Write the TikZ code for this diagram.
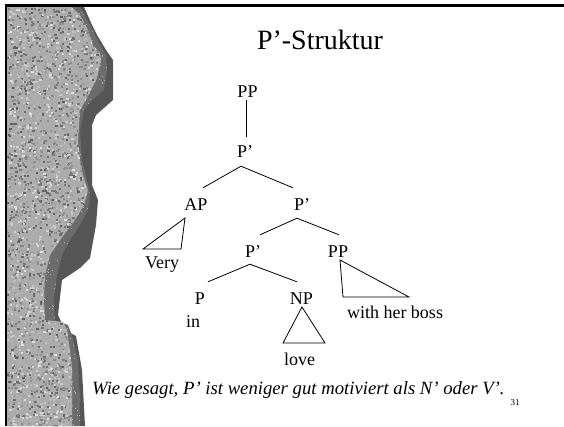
\documentclass[tikz,border=0pt]{standalone}
\usepackage{fontspec}
\setmainfont{Liberation Serif}
\definecolor{stonebase}{RGB}{172,172,172}
\definecolor{stoneband}{RGB}{108,108,108}
\definecolor{stoneshadow}{RGB}{86,86,86}
\tikzset{
  lab/.style={font=\fontsize{18}{18}\selectfont, inner sep=0pt, text height=12pt, text depth=0pt},
  word/.style={font=\fontsize{18}{18}\selectfont, inner sep=0pt, anchor=base},
  branch/.style={line width=0.8pt, black},
  tri/.style={line width=0.8pt, black, line join=miter},
}
\begin{document}
\begin{tikzpicture}[x=1pt,y=-1pt]
\useasboundingbox (0,0) rectangle (564,426);
\fill[white] (0,0) rectangle (564,426);
% decorative stone strip
\fill[stoneshadow] (7,7) -- (84,7) -- (92,25) -- (97,35) -- (106,50) -- (113,60) -- (113,100) -- (104,108) -- (96,115) -- (92,125) -- (92,185) -- (98,200) -- (96,225) -- (90,258) -- (80,268) -- (62,280) -- (58,315) -- (65,330) -- (76,336) -- (82,370) -- (85,426) -- (7,426) -- cycle;
\begin{scope}
\clip (7,7) -- (80,7) -- (90,25) -- (100,45) -- (106,55) -- (107,70) -- (104,90) -- (92,100) -- (84,110) -- (80,130) -- (82,160) -- (87,180) -- (90,195) -- (88,210) -- (80,225) -- (70,240) -- (62,255) -- (57,275) -- (54,300) -- (55,320) -- (68,325) -- (72,335) -- (78,360) -- (80,400) -- (80,426) -- (7,426) -- cycle;
\fill[stoneband] (0,0) rectangle (120,426);
\pgfmathsetseed{5}
\foreach \i in {1,...,700}{
  \pgfmathsetmacro{\px}{40+rnd*72}
  \pgfmathsetmacro{\py}{7+rnd*420}
  \fill[black!30!white] (\px,\py) rectangle ++(1,1);
}
\end{scope}
\begin{scope}
\clip (7,7) -- (72,7) -- (80,15) -- (88,30) -- (93,45) -- (100,53) -- (101,60) -- (97,78) -- (87,98) -- (80,110) -- (78,140) -- (80,160) -- (83,175) -- (88,190) -- (84,205) -- (75,220) -- (60,240) -- (50,255) -- (45,275) -- (44,300) -- (45,320) -- (63,322) -- (67,330) -- (70,350) -- (72,370) -- (72,426) -- (7,426) -- cycle;
\fill[stonebase] (0,0) rectangle (120,426);
\pgfmathsetseed{17}
\foreach \i in {1,...,3600}{
  \pgfmathsetmacro{\px}{7+rnd*96}
  \pgfmathsetmacro{\py}{7+rnd*420}
  \pgfmathsetmacro{\g}{int(12+rnd*52)}
  \fill[black!\g!white] (\px,\py) rectangle ++(2.2,2);
}
\end{scope}
% frame
\draw[line width=2.5pt, black] (5,5.5) -- (564,5.5);
\draw[line width=2.5pt, black] (6,5) -- (6,426);
% title
\node[font=\fontsize{28}{28}\selectfont, inner sep=0pt] (title) at (320,40) {P’-Struktur};
% tree labels
\node[lab] (pp0) at (247.5,91.5) {PP};
\node[lab] (p1) at (245,151.5) {P’};
\node[lab] (ap) at (196,204) {AP};
\node[lab] (p2) at (302,204) {P’};
\node[lab] (p3) at (253,251) {P’};
\node[lab] (pp1) at (338,251) {PP};
\node[lab] (pn) at (200,298) {P};
\node[lab] (np) at (301.5,298) {NP};
\node[word] (very) at (162,268) {Very};
\node[word] (in) at (193,327) {in};
\node[word] (love) at (299.5,365) {love};
\node[word] (boss) at (395,318) {with her boss};
% branches
\draw[branch] ([xshift=-1.5pt,yshift=-2.5pt]pp0.south) -- ([xshift=1pt,yshift=8.5pt]p1.north);
\draw[branch] ([xshift=-4pt,yshift=-8.5pt]p1.south) -- ([xshift=7pt,yshift=10pt]ap.north);
\draw[branch] ([xshift=-4pt,yshift=-8.5pt]p1.south) -- ([xshift=-9pt,yshift=10pt]p2.north);
\draw[branch] ([xshift=-5pt,yshift=-8pt]p2.south) -- ([xshift=7pt,yshift=10pt]p3.north);
\draw[branch] ([xshift=-5pt,yshift=-8pt]p2.south) -- ([xshift=1pt,yshift=10pt]pp1.north);
\draw[branch] ([xshift=-3pt,yshift=-7pt]p3.south) -- ([xshift=8pt,yshift=10pt]pn.north);
\draw[branch] ([xshift=-3pt,yshift=-7pt]p3.south) -- ([xshift=-4.5pt,yshift=10pt]np.north);
% triangles
\draw[tri] (185,218) -- (143,249) -- (181,249) -- cycle;
\draw[tri] (302,307) -- (283,343) -- (325,343) -- cycle;
\draw[tri] (340,260) -- (343,297) -- (409,297) -- cycle;
% caption
\node[font=\fontsize{18.7}{18.7}\selectfont\itshape, inner sep=0pt, anchor=base west] (cap) at (92,394) {Wie gesagt, P’ ist weniger gut motiviert als N’ oder V’.};
\node[font=\fontsize{9}{9}\selectfont, inner sep=0pt, anchor=base] (num) at (515,405) {31};
\end{tikzpicture}
\end{document}
